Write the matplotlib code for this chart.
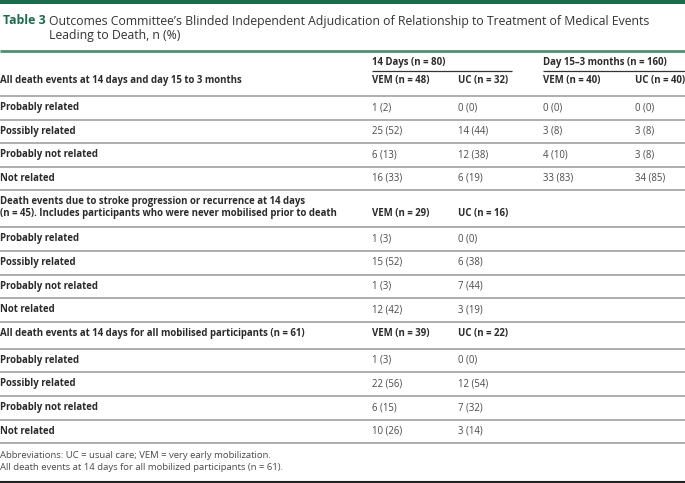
import matplotlib.pyplot as plt
from matplotlib.lines import Line2D

W, H = 685, 483

title_tag = "Table 3"
title_lines = ["Outcomes Committee\u2019s Blinded Independent Adjudication of Relationship to Treatment of Medical Events",
               "Leading to Death, n (%)"]

group_14 = "14 Days (n = 80)"
group_3m = "Day 15\u20133 months (n = 160)"

outcomes = ["Probably related", "Possibly related", "Probably not related", "Not related"]

# section 1: all death events
sec1_title = ["All death events at 14 days and day 15 to 3 months"]
sec1_cols = ["VEM (n = 48)", "UC (n = 32)", "VEM (n = 40)", "UC (n = 40)"]
sec1_vals = [["1 (2)", "0 (0)", "0 (0)", "0 (0)"],
             ["25 (52)", "14 (44)", "3 (8)", "3 (8)"],
             ["6 (13)", "12 (38)", "4 (10)", "3 (8)"],
             ["16 (33)", "6 (19)", "33 (83)", "34 (85)"]]

# section 2: stroke progression / recurrence
sec2_title = ["Death events due to stroke progression or recurrence at 14 days",
              "(n = 45). Includes participants who were never mobilised prior to death"]
sec2_cols = ["VEM (n = 29)", "UC (n = 16)"]
sec2_vals = [["1 (3)", "0 (0)"],
             ["15 (52)", "6 (38)"],
             ["1 (3)", "7 (44)"],
             ["12 (42)", "3 (19)"]]

# section 3: mobilised participants
sec3_title = ["All death events at 14 days for all mobilised participants (n = 61)"]
sec3_cols = ["VEM (n = 39)", "UC (n = 22)"]
sec3_vals = [["1 (3)", "0 (0)"],
             ["22 (56)", "12 (54)"],
             ["6 (15)", "7 (32)"],
             ["10 (26)", "3 (14)"]]

footnotes = ["Abbreviations: UC = usual care; VEM = very early mobilization.",
             "All death events at 14 days for all mobilized participants (n = 61)."]

green_dark = "#1d6b4c"
green_line = "#4f8f6e"
rule_gray = "#a8a8a8"
label_col = "#2b2b2b"
val_col = "#4a4a4a"
col_x = [372, 458, 543, 635]

plt.rcParams['font.family'] = ['Open Sans', 'DejaVu Sans']

fig = plt.figure(figsize=(W / 100, H / 100), dpi=100)
ax = fig.add_axes([0, 0, 1, 1])
ax.set_xlim(0, W)
ax.set_ylim(H, 0)
ax.axis("off")


def hline(y, x0=0, x1=W, color=rule_gray, lw=1.3):
    ax.add_line(Line2D([x0, x1], [y, y], color=color, lw=lw, solid_capstyle="butt"))


def txt(x, y, s, bold=False, color=val_col, size=6.9):
    ax.text(x, y, s, fontsize=size, fontweight="bold" if bold else "normal",
            color=color, va="center", ha="left")


# top bar and title
ax.add_patch(plt.Rectangle((0, 0), W, 3.5, color=green_dark, lw=0))
txt(3, 21, title_tag, bold=True, color=green_dark, size=8.9)
txt(49, 21, title_lines[0], color="#333333", size=8.85)
txt(49, 36, title_lines[1], color="#333333", size=8.85)
hline(50.5, color=green_line, lw=2)

# group headers
txt(col_x[0], 63, group_14, bold=True, color=label_col)
txt(col_x[2], 63, group_3m, bold=True, color=label_col)
hline(70.5, 372, 512, color="#333333", lw=0.9)
hline(70.5, 543, W, color="#333333", lw=0.9)


def section(y_head, title, cols, vals):
    if len(title) == 1:
        txt(0, y_head, title[0], bold=True, color=label_col)
        yc = y_head
    else:
        txt(0, y_head - 6, title[0], bold=True, color=label_col)
        txt(0, y_head + 6, title[1], bold=True, color=label_col)
        yc = y_head + 6
    for c, x in zip(cols, col_x):
        txt(x, yc, c, bold=True, color=label_col)
    y_line = y_head + (15 if len(title) == 1 else 20)
    hline(y_line)
    y = y_line
    for name, row in zip(outcomes, vals):
        yr = y + 11.5
        txt(0, yr, name, bold=True, color=label_col)
        for v, x in zip(row, col_x):
            txt(x, yr, v)
        y = y + 23.6
        hline(y)
    return y


y_end = section(81, sec1_title, sec1_cols, sec1_vals)
y_end = section(y_end + 17, sec2_title, sec2_cols, sec2_vals)
y_end = section(y_end + 12, sec3_title, sec3_cols, sec3_vals)

txt(0, 455, footnotes[0], size=6.8)
txt(0, 467.5, footnotes[1], size=6.8)
hline(481.5, color="#222222", lw=1.5)

fig.savefig("out.png", dpi=100)
